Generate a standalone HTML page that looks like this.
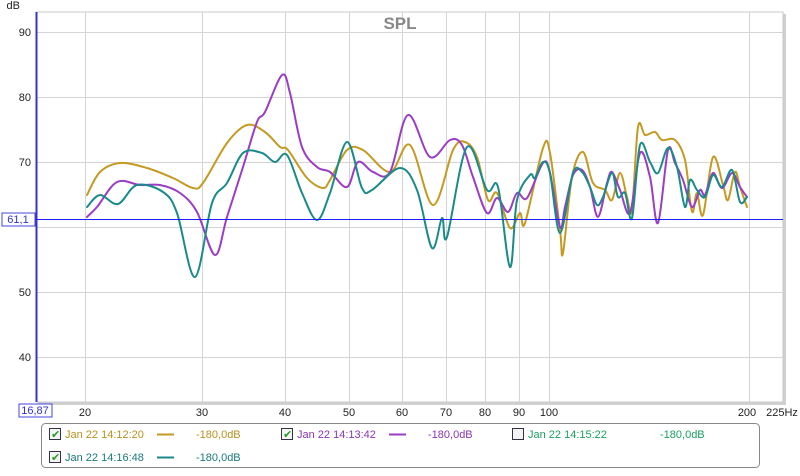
<!DOCTYPE html>
<html><head><meta charset="utf-8"><style>
body{margin:0;background:#fff;width:800px;height:471px;overflow:hidden;font-family:"Liberation Sans",sans-serif;}
</style></head><body>
<svg id="s" width="800" height="471" viewBox="0 0 800 471" xmlns="http://www.w3.org/2000/svg" font-family="Liberation Sans, sans-serif">
<rect x="0" y="0" width="800" height="471" fill="#fff"/>
<rect x="38" y="14" width="748" height="391" fill="#d0d0d0"/>
<rect x="36" y="12" width="747" height="390" fill="#fff" stroke="#c8c8c8"/>
<g stroke="#d4d4d4" stroke-width="1">
<line x1="36" x2="783" y1="32.5" y2="32.5"/><line x1="36" x2="783" y1="97.5" y2="97.5"/>
<line x1="36" x2="783" y1="162.5" y2="162.5"/><line x1="36" x2="783" y1="227.5" y2="227.5"/>
<line x1="36" x2="783" y1="292.5" y2="292.5"/><line x1="36" x2="783" y1="357.5" y2="357.5"/>
<line x1="85.5" x2="85.5" y1="12" y2="402"/><line x1="202.5" x2="202.5" y1="12" y2="402"/>
<line x1="285.5" x2="285.5" y1="12" y2="402"/><line x1="349.5" x2="349.5" y1="12" y2="402"/>
<line x1="402.5" x2="402.5" y1="12" y2="402"/><line x1="446.5" x2="446.5" y1="12" y2="402"/>
<line x1="485.5" x2="485.5" y1="12" y2="402"/><line x1="519.5" x2="519.5" y1="12" y2="402"/>
<line x1="549.5" x2="549.5" y1="12" y2="402"/><line x1="749.5" x2="749.5" y1="12" y2="402"/>
</g>
<line x1="36.5" x2="36.5" y1="12" y2="402" stroke="#3333cc" stroke-width="2"/>
<text x="400" y="29" font-size="17" font-weight="bold" fill="#888" text-anchor="middle">SPL</text>
<g font-size="11" fill="#222" text-anchor="end">
<text x="20" y="9">dB</text>
<text x="31" y="36">90</text><text x="31" y="101">80</text><text x="31" y="166">70</text>
<text x="31" y="296">50</text><text x="31" y="361">40</text>
</g>
<rect x="19" y="404" width="33" height="13" fill="#fff" stroke="#4444dd"/>
<text x="35" y="414" font-size="11" fill="#3333cc" text-anchor="middle">16,87</text>
<g font-size="11" fill="#222" text-anchor="middle">
<text x="85" y="416">20</text><text x="202" y="416">30</text><text x="285" y="416">40</text>
<text x="349" y="416">50</text><text x="402" y="416">60</text><text x="446" y="416">70</text>
<text x="485" y="416">80</text><text x="519" y="416">90</text><text x="549" y="416">100</text>
<text x="747" y="416">200</text><text x="782" y="416">225Hz</text>
</g>
<g id="curves" fill="none" stroke-width="2" stroke-linejoin="round" stroke-linecap="round">
<polyline stroke="#c49a22" points="87,195 100,172 120,163 147,168 173,178 193,188 203,183 227,143 247,125 265,132 280,147 288,150 307,178 323,188 330,180 347,150 363,150 390,172 410,145 433,205 453,150 465,142 477,157 488,200 497,193 510,228 520,213 525,223 543,148 550,153 560,230 563,253 572,177 583,152 593,183 605,190 612,200 620,173 627,197 632,210 638,127 645,135 655,132 662,140 675,140 685,160 690,200 693,212 697,193 703,215 713,157 723,185 728,200 735,172 740,187 747,207"/>
<polyline stroke="#9b3dc4" points="87,217 97,207 117,182 140,185 160,185 180,193 197,212 215,255 227,217 243,167 257,122 265,112 282,75 290,93 302,147 317,167 330,172 347,187 358,162 373,172 390,172 408,115 430,157 450,140 462,145 473,177 487,213 497,198 508,212 517,193 527,198 543,163 550,173 560,227 565,207 573,175 582,170 590,187 598,217 607,183 612,172 620,190 630,213 640,153 650,177 658,223 668,150 675,163 683,180 692,207 700,190 705,195 713,173 722,188 732,173 740,187 747,197"/>
<polyline stroke="#1a8a8a" points="87,207 100,195 118,204 137,185 163,192 177,213 195,277 212,203 227,183 243,153 262,153 275,162 287,155 302,193 317,220 330,193 347,142 362,188 372,190 400,168 417,190 432,248 442,218 447,237 467,147 487,190 498,187 510,267 517,200 530,175 535,178 543,162 550,173 560,233 573,173 582,172 590,187 597,205 603,197 612,173 618,197 625,193 632,218 640,145 650,162 658,173 668,148 677,167 685,207 690,180 697,190 705,197 713,175 722,187 732,170 740,202 747,197"/>
</g>
<line x1="36" x2="783" y1="219.5" y2="219.5" stroke="#2020ff" stroke-width="1"/>
<rect x="2" y="213" width="33" height="13" fill="#fff" stroke="#4444dd"/>
<text x="18" y="223" font-size="11" fill="#3333cc" text-anchor="middle">61,1</text>
<rect x="41.5" y="423.5" width="718" height="44" rx="4" fill="#fff" stroke="#888"/>
<g font-size="11">
<rect x="49.5" y="428.5" width="11" height="11" fill="#f4f4f4" stroke="#334"/><text x="51" y="438" font-size="11" fill="#2a9a2a">✔</text>
<text x="65" y="438" fill="#b8921e">Jan 22 14:12:20</text>
<line x1="157" x2="174" y1="434.5" y2="434.5" stroke="#c49a22" stroke-width="2"/>
<text x="196" y="438" fill="#b8921e">-180,0dB</text>
<rect x="281.5" y="428.5" width="11" height="11" fill="#f4f4f4" stroke="#334"/><text x="283" y="438" font-size="11" fill="#2a9a2a">✔</text>
<text x="297" y="438" fill="#8a35b4">Jan 22 14:13:42</text>
<line x1="389" x2="406" y1="434.5" y2="434.5" stroke="#9b3dc4" stroke-width="2"/>
<text x="428" y="438" fill="#8a35b4">-180,0dB</text>
<rect x="512.5" y="428.5" width="11" height="11" fill="#f4f4f4" stroke="#334"/>
<text x="528" y="438" fill="#1aa060">Jan 22 14:15:22</text>
<text x="660" y="438" fill="#1aa060">-180,0dB</text>
<rect x="49.5" y="451.5" width="11" height="11" fill="#f4f4f4" stroke="#334"/><text x="51" y="461" font-size="11" fill="#2a9a2a">✔</text>
<text x="65" y="461" fill="#1a7a7a">Jan 22 14:16:48</text>
<line x1="157" x2="174" y1="457.5" y2="457.5" stroke="#1a8a8a" stroke-width="2"/>
<text x="196" y="461" fill="#1a7a7a">-180,0dB</text>
</g>
</svg>
<script>
(function(){
var NS="http://www.w3.org/2000/svg";
var pls=document.querySelectorAll("#curves polyline");
for(var k=0;k<pls.length;k++){
 var pl=pls[k];
 var pts=pl.getAttribute("points").trim().split(/\s+/).map(function(s){var a=s.split(",");return [+a[0],+a[1]];});
 var d="M"+pts[0][0]+","+pts[0][1];
 for(var i=0;i<pts.length-1;i++){
  var p0=pts[i>0?i-1:i],p1=pts[i],p2=pts[i+1],p3=pts[i+2<pts.length?i+2:i+1];
  var c1x=p1[0]+(p2[0]-p0[0])/6,c1y=p1[1]+(p2[1]-p0[1])/6;
  var c2x=p2[0]-(p3[0]-p1[0])/6,c2y=p2[1]-(p3[1]-p1[1])/6;
  d+=" C"+c1x.toFixed(1)+","+c1y.toFixed(1)+" "+c2x.toFixed(1)+","+c2y.toFixed(1)+" "+p2[0]+","+p2[1];
 }
 var p=document.createElementNS(NS,"path");
 p.setAttribute("d",d);p.setAttribute("stroke",pl.getAttribute("stroke"));
 pl.parentNode.replaceChild(p,pl);
}
})();
</script>
</body></html>
